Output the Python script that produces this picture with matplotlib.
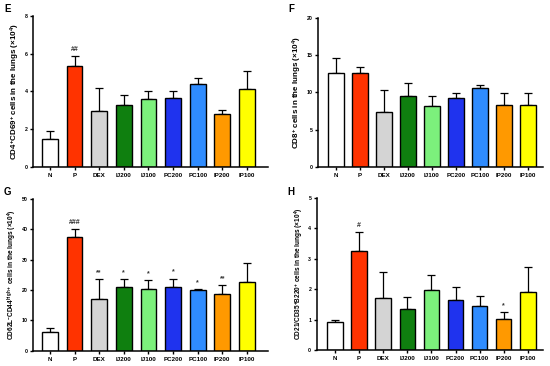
import numpy as np
import matplotlib
matplotlib.use('Agg')
import matplotlib.pyplot as plt

plt.rcParams['font.family'] = ['Liberation Sans', 'DejaVu Sans']
plt.rcParams['font.weight'] = 'bold'
plt.rcParams['mathtext.fontset'] = 'custom'
plt.rcParams['mathtext.bf'] = 'Liberation Sans:bold'
plt.rcParams['mathtext.rm'] = 'Liberation Sans:bold'
plt.rcParams['mathtext.default'] = 'bf'

# группы
groups = ['N', 'P', 'DEX', 'IJ200', 'IJ100', 'PC200', 'PC100', 'IP200', 'IP100']
colors = ['#FFFFFF', '#FF3300', '#D4D4D4', '#0F7F0F', '#7CF07C',
          '#1F33EE', '#2F8CFF', '#FF9900', '#FFFF00']

# E: CD4+CD69+
e_mean = [1.50, 5.34, 2.97, 3.30, 3.59, 3.66, 4.38, 2.79, 4.13]
e_top = [1.89, 5.86, 4.19, 3.83, 4.01, 4.01, 4.70, 3.00, 5.10]
e_sig = ['', '##', '', '', '', '', '', '', '']

# F: CD8+
f_mean = [12.67, 12.6, 7.37, 9.53, 8.18, 9.26, 10.6, 8.36, 8.31]
f_top = [14.6, 13.4, 10.3, 11.3, 9.53, 9.93, 10.97, 9.9, 9.9]
f_sig = ['', '', '', '', '', '', '', '', '']

# G: CD62L-CD44high+
g_mean = [6.3, 37.4, 16.9, 21.1, 20.3, 21.1, 20.0, 18.8, 22.8]
g_top = [7.5, 40.1, 23.5, 23.7, 23.2, 23.8, 20.4, 21.5, 28.8]
g_sig = ['', '###', '**', '*', '*', '*', '*', '**', '']

# H: CD21/CD35+B220+
h_mean = [0.92, 3.25, 1.70, 1.33, 1.97, 1.64, 1.43, 1.03, 1.90]
h_top = [1.00, 3.88, 2.56, 1.74, 2.45, 2.07, 1.76, 1.25, 2.74]
h_sig = ['', '#', '', '', '', '', '', '*', '']


def panel(ax, mean, top, sig, ymax, step, ylabel, ylab_size, xlim):
    x = np.arange(len(groups))
    mean = np.array(mean)
    err = np.array(top) - mean
    ax.bar(x, mean, width=0.64, color=colors, edgecolor='black', linewidth=1.0, zorder=2)
    ax.errorbar(x, mean, yerr=[np.zeros_like(err), err], fmt='none', ecolor='black',
                elinewidth=0.9, capsize=3.2, capthick=0.9, zorder=1)
    for xi, t, s in zip(x, top, sig):
        if s:
            ax.text(xi, t + ymax * 0.02, s, ha='center', va='bottom', fontsize=5,
                    color='#333333')
    ax.set_ylim(0, ymax)
    ax.set_xlim(*xlim)
    ax.set_yticks(np.arange(0, ymax + step / 2, step))
    ax.set_xticks(x)
    ax.set_xticklabels(groups, fontsize=4.5, fontweight='bold')
    ax.tick_params(axis='y', labelsize=3.8, length=2.5, width=1.0, pad=1.5)
    ax.tick_params(axis='x', length=2.5, width=1.0, pad=2)
    for sp in ['top', 'right']:
        ax.spines[sp].set_visible(False)
    for sp in ['left', 'bottom']:
        ax.spines[sp].set_linewidth(1.1)
    ax.set_ylabel(ylabel, fontsize=ylab_size, fontweight='bold', labelpad=1.5)


fig = plt.figure(figsize=(5.5, 3.66), dpi=100)
axE = fig.add_axes([0.060, 0.544, 0.427, 0.413])
axF = fig.add_axes([0.578, 0.544, 0.409, 0.407])
axG = fig.add_axes([0.060, 0.042, 0.427, 0.414])
axH = fig.add_axes([0.576, 0.044, 0.411, 0.415])

panel(axE, e_mean, e_top, e_sig, 8, 2,
      r'CD4$^{+}$CD69$^{+}$ cells in the lungs (×10$^{4}$)', 5.8, (-0.69, 8.85))
panel(axF, f_mean, f_top, f_sig, 20, 5,
      r'CD8$^{+}$ cells in the lungs (×10$^{4}$)', 5.8, (-0.75, 8.62))
panel(axG, g_mean, g_top, g_sig, 50, 10,
      r'CD62L$^{-}$CD44$^{high+}$ cells in the lungs (×10$^{4}$)', 4.7, (-0.69, 8.85))
panel(axH, h_mean, h_top, h_sig, 5, 1,
      r'CD21/CD35$^{+}$B220$^{+}$ cells in the lungs (×10$^{4}$)', 4.7, (-0.75, 8.62))

# буквы панелей
for lx, ly, s in [(0.008, 0.988, 'E'), (0.524, 0.988, 'F'),
                  (0.006, 0.488, 'G'), (0.522, 0.488, 'H')]:
    fig.text(lx, ly, s, fontsize=7, fontweight='bold', ha='left', va='top')

fig.savefig('out.png', dpi=100)
